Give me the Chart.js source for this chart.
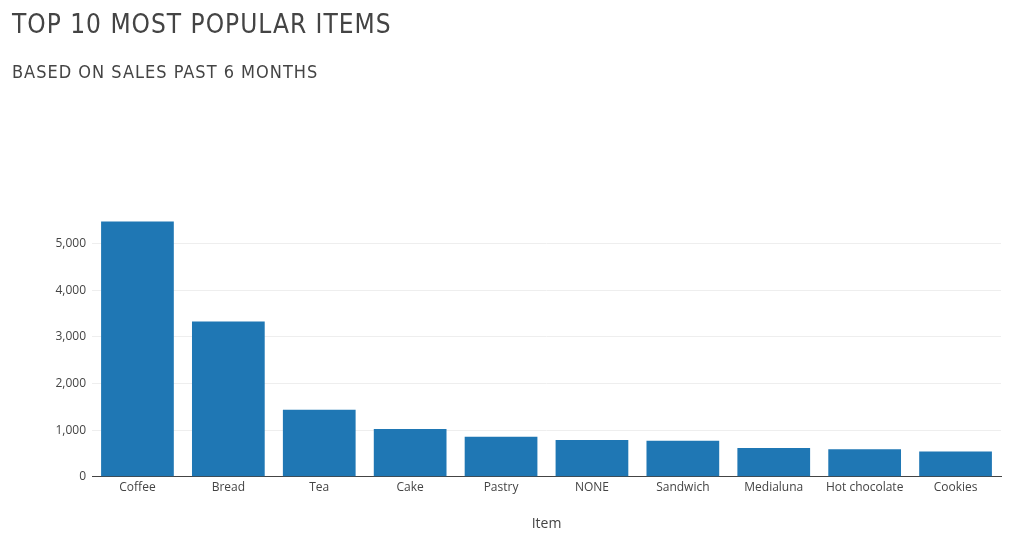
<!DOCTYPE html>
<html>
<head>
<meta charset="utf-8">
<script src="https://cdn.jsdelivr.net/npm/chart.js@4"></script>
<style>
  body { margin: 0; background: #fff; }
  #wrap { position: relative; width: 1017px; height: 542px; }
  .t { position: absolute; left: 12px; color: #444; font-family: "Liberation Sans Narrow", "DejaVu Sans Condensed", sans-serif; letter-spacing: 1px; white-space: nowrap; }
  #title { top: 9px; font-size: 26px; }
  #sub { top: 61px; font-size: 18px; }
  canvas { position: absolute; left: 0; top: 0; }
</style>
</head>
<body>
<div id="wrap">
  <canvas id="c" width="1017" height="542"></canvas>
  <div class="t" id="title">TOP 10 MOST POPULAR ITEMS</div>
  <div class="t" id="sub">BASED ON SALES PAST 6 MONTHS</div>
</div>
<script>
const items = ['Coffee', 'Bread', 'Tea', 'Cake', 'Pastry', 'NONE', 'Sandwich', 'Medialuna', 'Hot chocolate', 'Cookies'];
const sales = [5471, 3325, 1435, 1025, 856, 786, 771, 616, 590, 540];
const yTicks = [0, 1000, 2000, 3000, 4000, 5000];

const font = { family: '"Open Sans", sans-serif', size: 12 };

new Chart(document.getElementById('c'), {
  type: 'bar',
  data: {
    labels: items,
    datasets: [{
      data: sales,
      backgroundColor: '#1f77b4',
      barPercentage: 0.8,
      categoryPercentage: 1,
    }],
  },
  options: {
    responsive: false,
    animation: false,
    layout: { padding: { top: 208, right: 16, bottom: 6, left: 0 } },
    plugins: { legend: { display: false }, tooltip: { enabled: false } },
    scales: {
      x: {
        grid: { display: false, drawTicks: false },
        border: { color: '#444', width: 1 },
        ticks: { color: '#444', font: font, padding: 4, maxRotation: 0, autoSkip: false },
        title: { display: true, text: 'Item', color: '#444', font: { family: font.family, size: 14 }, padding: { top: 16 } },
      },
      y: {
        min: 0,
        max: 5759,
        afterBuildTicks: (axis) => { axis.ticks = yTicks.map((v) => ({ value: v })); },
        afterFit: (axis) => { axis.width = 92; },
        grid: { color: '#eee', drawTicks: false },
        border: { display: false },
        ticks: { color: '#444', font: font, padding: 6 },
      },
    },
  },
});
</script>
</body>
</html>
